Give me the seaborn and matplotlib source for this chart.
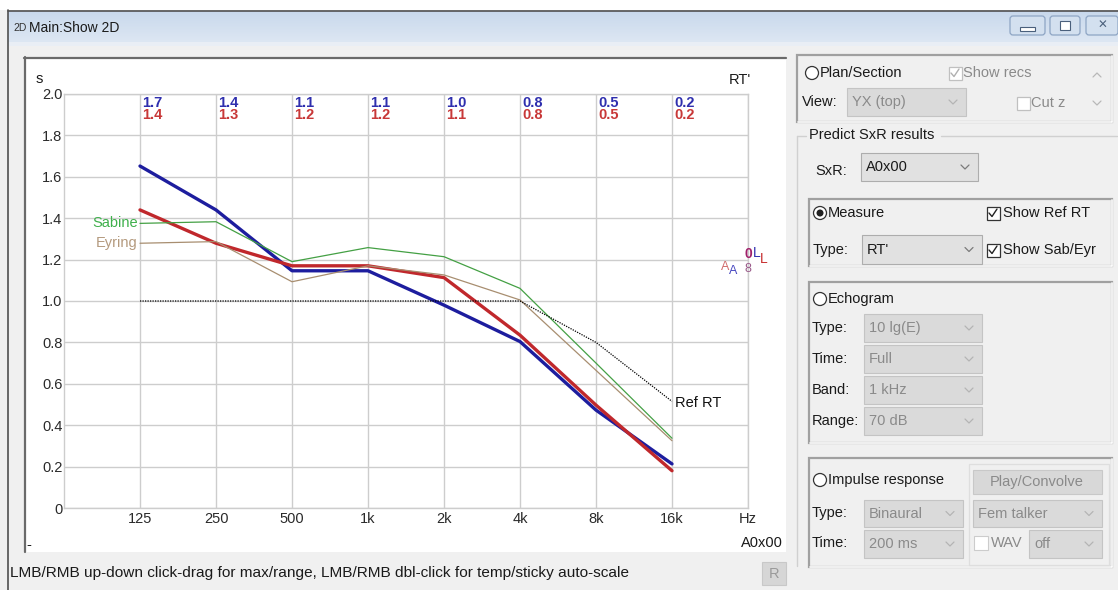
import numpy as np
import pandas as pd
import seaborn as sns
import matplotlib
matplotlib.use("Agg")
import matplotlib.pyplot as plt
from matplotlib.patches import Rectangle, Circle, FancyBboxPatch

# ---- data -------------------------------------------------------------
freq_labels = ["125", "250", "500", "1k", "2k", "4k", "8k", "16k"]
rt_measured = [1.652, 1.44, 1.146, 1.146, 0.98, 0.804, 0.473, 0.213]
rt_predicted = [1.44, 1.279, 1.17, 1.17, 1.113, 0.835, 0.497, 0.18]
rt_sabine = [1.375, 1.383, 1.19, 1.258, 1.214, 1.061, 0.70, 0.337]
rt_eyring = [1.279, 1.287, 1.093, 1.17, 1.126, 1.005, 0.665, 0.325]
rt_reference = [1.0, 1.0, 1.0, 1.0, 1.0, 1.0, 0.80, 0.515]
y_ticks = [0.0, 0.2, 0.4, 0.6, 0.8, 1.0, 1.2, 1.4, 1.6, 1.8, 2.0]

sns.set_style("white")
plt.rcParams["font.family"] = ["Liberation Sans", "DejaVu Sans"]

W, H = 1118, 590
fig = plt.figure(figsize=(W / 100, H / 100), dpi=100)
fig.patch.set_facecolor("#f0f0f0")

# ---- window chrome (pixel coordinates) --------------------------------
ui = fig.add_axes([0, 0, 1, 1], zorder=0)
ui.set_xlim(0, W)
ui.set_ylim(H, 0)
ui.axis("off")

FS = 10.5
TXT = "#1a1a1a"
DIS = "#8a8a8a"


def rect(x0, y0, x1, y1, fc="none", ec="none", lw=1.0, z=1):
    ui.add_patch(Rectangle((x0, y0), x1 - x0, y1 - y0, fc=fc, ec=ec, lw=lw, zorder=z))


def txt(x, y, s, color=TXT, size=FS, ha="left", va="center", **kw):
    ui.text(x, y, s, color=color, fontsize=size, ha=ha, va=va, zorder=5, **kw)


def chevron(x, y, color="#a8a8a8"):
    ui.plot([x - 4, x, x + 4], [y - 2, y + 2, y - 2], color=color, lw=0.9, zorder=6)


def dropdown(x0, y0, x1, y1, label, enabled=True):
    rect(x0, y0, x1, y1, fc="#dadada" if not enabled else "#e1e1e1",
         ec="#c4c4c4" if not enabled else "#adadad", lw=0.8, z=3)
    txt(x0 + 5, (y0 + y1) / 2, label, color=TXT if enabled else DIS)
    chevron(x1 - 13, (y0 + y1) / 2, "#7a7a7a" if enabled else "#b4b4b4")


def radio(x, y, on=False):
    ui.add_patch(Circle((x, y), 6.5, fc="white", ec="#333333", lw=0.9, zorder=4))
    if on:
        ui.add_patch(Circle((x, y), 3.5, fc="#222222", ec="none", zorder=5))


def checkbox(x, y, on=False, enabled=True):
    ec = "#333333" if enabled else "#c0c0c0"
    rect(x - 6.5, y - 6.5, x + 6.5, y + 6.5, fc="white", ec=ec, lw=0.9, z=4)
    if on:
        c = "#222222" if enabled else "#b0b0b0"
        ui.plot([x - 4, x - 1, x + 4], [y, y + 3.5, y - 4], color=c, lw=1.0, zorder=5)


def group(x0, y0, x1, y1):
    rect(x0, y0, x1, y1, ec="#a0a0a0", lw=1.6, z=2)
    ui.plot([x0 + 1, x1], [y1, y1], color="white", lw=1.2, zorder=2)
    ui.plot([x1, x1], [y0 + 1, y1], color="white", lw=1.2, zorder=2)


# outer page and window frame
rect(0, 0, W, 10, fc="white", z=0)
ui.plot([8, W], [10.5, 10.5], color="#505050", lw=1.2, zorder=1)
ui.plot([8, 8], [10, H], color="#505050", lw=1.2, zorder=1)
grad = np.linspace(0, 1, 64).reshape(-1, 1)
ui.imshow(grad, extent=(8, W, 42, 11), cmap=matplotlib.colors.LinearSegmentedColormap.from_list(
    "tb", ["#c8d8ec", "#dde7f3"]), aspect="auto", zorder=0.5)
rect(8, 42, W, 46, fc="#e9eef5", z=0.6)
txt(13, 28, "2D", size=7.5, color="#333333")
txt(29, 28, "Main:Show 2D", size=10, color="#1a1a1a")
for bx0, bx1 in [(1010, 1045), (1050, 1080), (1086, 1118)]:
    ui.add_patch(FancyBboxPatch((bx0, 16), bx1 - bx0, 19, boxstyle="round,pad=0,rounding_size=3",
                                fc="#d3e0ef", ec="#8ea5c4", lw=0.9, zorder=2))
rect(1020, 27, 1035, 31, fc="white", ec="#4a607c", lw=0.8, z=3)
rect(1060, 21, 1070, 30, fc="white", ec="#4a607c", lw=0.8, z=3)
txt(1102, 25.5, "\u2715", size=8.5, color="#4a607c", ha="center", family=["DejaVu Sans"])

# chart panel
rect(24, 57, 786, 552, fc="white", z=0.8)
ui.plot([24, 786], [57.5, 57.5], color="#6a6a6a", lw=1.6, zorder=1)
ui.plot([24.5, 24.5], [57, 552], color="#6a6a6a", lw=1.6, zorder=1)
txt(36, 79, "s", size=FS)
txt(751, 80, "RT'", size=FS, ha="right")
txt(26, 545, "-", size=FS)
txt(783, 543, "A0x00", size=FS, ha="right")

# status line
txt(10, 573, "LMB/RMB up-down click-drag for max/range, LMB/RMB dbl-click for temp/sticky auto-scale",
    size=11.1)
rect(762, 562, 786, 585, fc="#d6d6d6", ec="#c8c8c8", lw=0.8, z=2)
txt(774, 574, "R", color="#9a9a9a", ha="center")

# ---- control panel ------------------------------------------------------
group(797, 55, 1112, 122)
radio(812, 73)
txt(820, 73, "Plan/Section")
checkbox(955, 73, on=True, enabled=False)
txt(963, 73, "Show recs", color=DIS)
ui.plot([1093, 1097, 1101], [77, 73, 77], color="#b8b8b8", lw=0.9, zorder=5)
chevron(1097, 103, "#b8b8b8")
txt(802, 102, "View:")
dropdown(847, 88, 966, 116, "YX (top)", enabled=False)
checkbox(1023, 103, on=False, enabled=False)
txt(1031, 103, "Cut z", color=DIS)

ui.plot([797, 806], [136, 136], color="#d0d0d0", lw=1, zorder=2)
ui.plot([941, 1117], [136, 136], color="#d0d0d0", lw=1, zorder=2)
ui.plot([797, 797], [136, 566], color="#d0d0d0", lw=1, zorder=2)
txt(809, 135, "Predict SxR results")
txt(815, 171, "SxR:")
dropdown(861, 153, 978, 181, "A0x00")

group(809, 199, 1112, 266)
radio(820, 213, on=True)
txt(828, 213, "Measure")
checkbox(993, 213, on=True)
txt(1003, 213, "Show Ref RT")
txt(813, 250, "Type:")
dropdown(862, 235, 982, 264, "RT'")
checkbox(993, 250, on=True)
txt(1003, 250, "Show Sab/Eyr")

group(809, 282, 1112, 443)
radio(820, 299)
txt(828, 299, "Echogram")
echo_rows = [("Type:", "10 lg(E)"), ("Time:", "Full"), ("Band:", "1 kHz"), ("Range:", "70 dB")]
for i, (lab, val) in enumerate(echo_rows):
    yc = 328 + i * 31
    txt(812, yc, lab)
    dropdown(864, yc - 14, 982, yc + 14, val, enabled=False)

group(809, 458, 1112, 567)
radio(820, 480)
txt(828, 480, "Impulse response")
rect(969, 464, 1109, 565, ec="#dedede", lw=0.9, z=2)
rect(973, 470, 1102, 494, fc="#d8d8d8", ec="#c8c8c8", lw=0.8, z=3)
txt(1037, 482, "Play/Convolve", color=DIS, ha="center")
txt(812, 513, "Type:")
dropdown(864, 500, 963, 527, "Binaural", enabled=False)
dropdown(973, 500, 1102, 527, "Fem talker", enabled=False)
txt(812, 543, "Time:")
dropdown(864, 530, 963, 558, "200 ms", enabled=False)
rect(974, 536, 988, 550, fc="white", ec="#cccccc", lw=0.8, z=4)
txt(991, 543, "WAV", color=DIS)
dropdown(1029, 530, 1102, 558, "off", enabled=False)

# ---- reverberation-time chart -----------------------------------------
x0, x1, yb, yt = 64, 748, 508, 94
ax = fig.add_axes([x0 / W, 1 - yb / H, (x1 - x0) / W, (yb - yt) / H], zorder=2)
ax.set_facecolor("none")

pos = np.arange(1, len(freq_labels) + 1)
df = pd.DataFrame({
    "pos": pos,
    "measured": rt_measured,
    "predicted": rt_predicted,
    "sabine": rt_sabine,
    "eyring": rt_eyring,
    "reference": rt_reference,
})

BLUE_LINE, BLUE_TXT = "#1d1d9e", "#2f2fae"
RED_LINE, RED_TXT = "#c0282c", "#c83838"
GREEN, GREEN_TXT = "#44a044", "#3fb04c"
TAN, TAN_TXT = "#a88e70", "#b49a7e"

sns.lineplot(data=df, x="pos", y="measured", ax=ax, color=BLUE_LINE, lw=2.4, zorder=3)
sns.lineplot(data=df, x="pos", y="predicted", ax=ax, color=RED_LINE, lw=2.4, zorder=4)
sns.lineplot(data=df, x="pos", y="sabine", ax=ax, color=GREEN, lw=0.9, zorder=5)
sns.lineplot(data=df, x="pos", y="eyring", ax=ax, color=TAN, lw=0.9, zorder=5)
sns.lineplot(data=df, x="pos", y="reference", ax=ax, color="black", lw=0.9,
             linestyle=(0, (1, 1)), zorder=5)

ax.set_xlim(0, len(freq_labels) + 1)
ax.set_ylim(0, 2.0)
ax.set_xticks(list(pos) + [len(freq_labels) + 1])
ax.set_xticklabels(freq_labels + ["Hz"])
ax.set_yticks(y_ticks)
ax.set_yticklabels(["0" if v == 0 else f"{v:.1f}" for v in y_ticks])
ax.tick_params(length=0, labelsize=FS, colors="#2a2a2a")
ax.tick_params(axis="y", pad=1)
ax.tick_params(axis="x", pad=3)
ax.grid(True, color="#cdcdcd", lw=1.0)
for sp in ax.spines.values():
    sp.set_color("#cdcdcd")
    sp.set_linewidth(1.0)
ax.set_xlabel("")
ax.set_ylabel("")

# band values above the grid
for p, vm, vp in zip(pos, rt_measured, rt_predicted):
    ax.text(p + 0.03, 1.955, f"{vm:.1f}", color=BLUE_TXT, fontsize=FS, fontweight="bold",
            ha="left", va="center", zorder=6)
    ax.text(p + 0.03, 1.897, f"{vp:.1f}", color=RED_TXT, fontsize=FS, fontweight="bold",
            ha="left", va="center", zorder=6)

# series names
ax.text(0.97, rt_sabine[0], "Sabine", color=GREEN_TXT, fontsize=FS, ha="right", va="center")
ax.text(0.97, rt_eyring[0], "Eyring", color=TAN_TXT, fontsize=FS, ha="right", va="center")
ax.text(pos[-1] + 0.04, rt_reference[-1] - 0.01, "Ref RT", color="#111111", fontsize=FS,
        ha="left", va="center")

# source / receiver markers at the right edge
xe = len(freq_labels) + 1
ax.text(xe - 0.30, 1.165, "A", color="#d06a6a", fontsize=9, ha="center", va="center", clip_on=False)
ax.text(xe - 0.20, 1.145, "A", color="#4848c0", fontsize=9, ha="center", va="center", clip_on=False)
ax.text(xe, 1.155, "8", color="#9a5a8a", fontsize=9, ha="center", va="center", clip_on=False)
ax.text(xe, 1.225, "0", color="#a0206a", fontsize=10, fontweight="bold", ha="center", va="center",
        clip_on=False)
ax.text(xe + 0.11, 1.23, "L", color="#3030b0", fontsize=10, ha="center", va="center", clip_on=False)
ax.text(xe + 0.21, 1.205, "L", color="#c83030", fontsize=10, ha="center", va="center", clip_on=False)

fig.savefig("out.png", dpi=100, facecolor=fig.get_facecolor())
